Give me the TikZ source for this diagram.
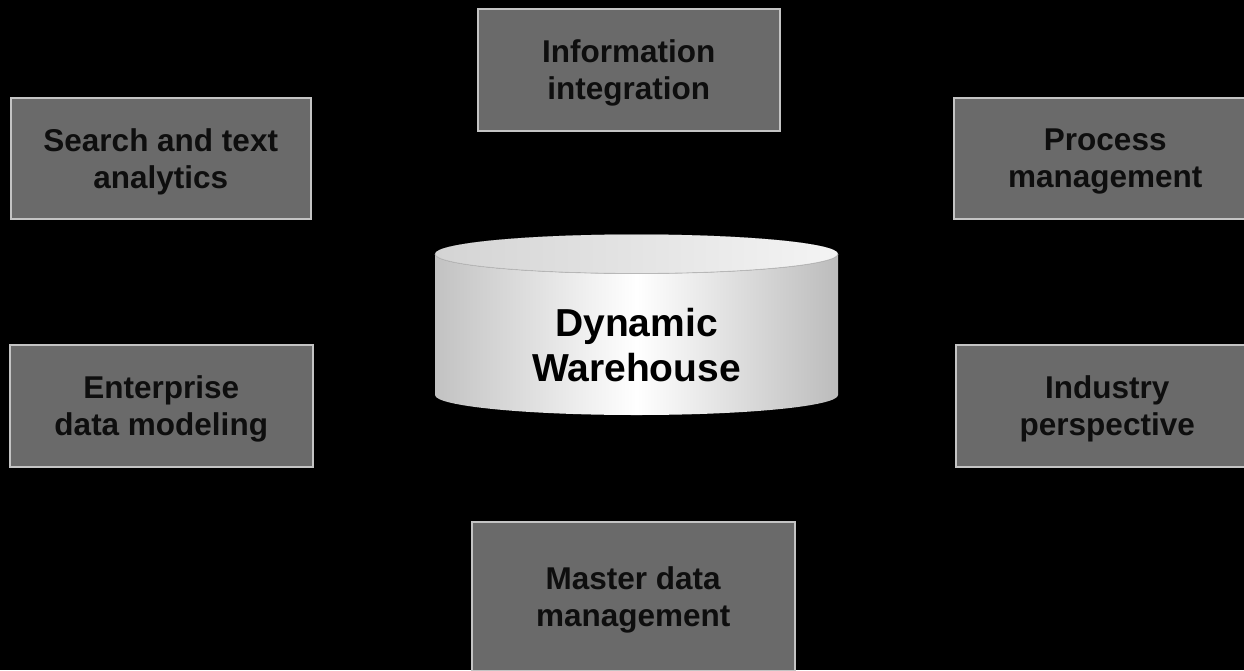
\documentclass[tikz,border=0pt]{standalone}
\usepackage{fontspec}
\setmainfont{Liberation Sans}
\definecolor{boxfill}{HTML}{6A6A6A}
\definecolor{boxedge}{HTML}{C4C4C4}
\definecolor{boxtext}{HTML}{0E0E0E}
\definecolor{cylL}{HTML}{C2C2C2}
\definecolor{cylR}{HTML}{BCBCBC}
\definecolor{topL}{HTML}{D4D4D4}
\definecolor{topR}{HTML}{F4F4F4}
\definecolor{topedge}{HTML}{B8B8B8}
\begin{document}
\begin{tikzpicture}[x=1pt,y=1pt,
  infobox/.style={draw=boxedge, line width=1.5pt, fill=boxfill, text=boxtext,
    font=\bfseries\fontsize{31.5}{37}\selectfont, align=center,
    inner sep=0pt, text depth=0pt, anchor=north west},
  cyltext/.style={font=\bfseries\fontsize{39}{45}\selectfont, align=center, text=black, inner sep=0pt}]
\useasboundingbox (0,0) rectangle (1244,-670);
\fill[black] (0,0) rectangle (1244,-670);

% boxes
\node[infobox, minimum width=302pt, minimum height=122pt] (info) at (477,-8) {Information\\integration};
\node[infobox, minimum width=300pt, minimum height=121pt] (search) at (10,-97) {Search and text\\analytics};
\node[infobox, minimum width=303pt, minimum height=121pt] (process) at (953,-97) {Process\\management};
\node[infobox, minimum width=303pt, minimum height=122pt] (enterprise) at (9,-344) {Enterprise\\data modeling};
\node[infobox, minimum width=303pt, minimum height=122pt] (industry) at (955,-344) {Industry\\perspective};
\node[infobox, minimum width=323pt, minimum height=149pt] (master) at (471,-521) {Master data\\management};

% cylinder
\fill[left color=cylL, right color=cylR, middle color=white]
  (435,-254) -- (435,-395) arc[start angle=180, end angle=360, x radius=201.5, y radius=20]
  -- (838,-254) arc[start angle=0, end angle=180, x radius=201.5, y radius=19.5] -- cycle;
\fill[left color=topL, right color=topR] (636.5,-254) ellipse [x radius=201.5, y radius=19.5];
\draw[topedge, line width=0.8pt] (435,-254) arc[start angle=180, end angle=360, x radius=201.5, y radius=19.5];
\node[cyltext] (dw) at (636.5,-345.5) {Dynamic\\Warehouse};
\end{tikzpicture}
\end{document}
